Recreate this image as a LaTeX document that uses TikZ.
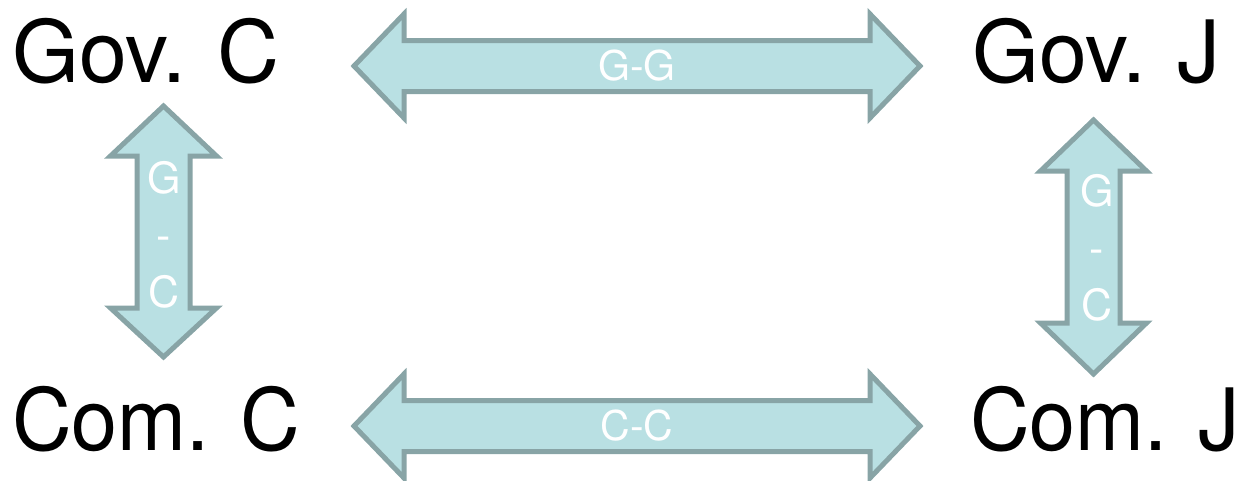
\documentclass[tikz,border=0pt]{standalone}
\usepackage{fontspec}
\setmainfont{TeX Gyre Heros}
\newfontfamily\comfont{TeX Gyre Heros}[FakeStretch=0.962]
\definecolor{arrfill}{RGB}{185,224,227}
\definecolor{arrline}{RGB}{136,164,166}
\begin{document}
\begin{tikzpicture}[x=1pt,y=-1pt,
  bigarrow/.style={draw=arrline,fill=arrfill,line width=5pt,line join=miter},
  party/.style={inner sep=0pt,anchor=base west,font=\fontsize{86}{86}\selectfont},
  comparty/.style={party,font=\comfont\fontsize{86}{86}\selectfont},
  arrlabel/.style={inner sep=0pt,text=white,font=\fontsize{41}{41}\selectfont},
  vlabel/.style={inner sep=0pt,text=white,align=center,font=\fontsize{43}{57}\selectfont}]
\useasboundingbox (0,0) rectangle (1240,480);
% parties
\node[party] (gc) at (12,82) {Gov. C};
\node[party] (gj) at (972,82) {Gov. J};
\node[comparty] (cc) at (12,450) {Com. C};
\node[comparty] (cj) at (970,450) {Com. J};
% G-G arrow
\draw[bigarrow] (354,66) -- (404,14) -- (404,40.5) -- (870,40.5) -- (870,14) -- (920,66)
  -- (870,118) -- (870,91.5) -- (404,91.5) -- (404,118) -- cycle;
\node[arrlabel,anchor=base] (gg) at (637,80) {G-G};
% C-C arrow
\draw[bigarrow] (354,426) -- (404,374) -- (404,400.5) -- (870,400.5) -- (870,374) -- (920,426)
  -- (870,478) -- (870,451.5) -- (404,451.5) -- (404,478) -- cycle;
\node[arrlabel,anchor=base] (ccl) at (637,440) {C-C};
% left G-C arrow
\draw[bigarrow] (163.5,106) -- (216.5,156) -- (190,156) -- (190,308) -- (216.5,308) -- (163.5,357)
  -- (110.5,308) -- (137,308) -- (137,156) -- (110.5,156) -- cycle;
\node[vlabel] (gcl) at (164,235) {G\\-\\C};
% right G-C arrow
\draw[bigarrow] (1093.5,120) -- (1146.5,171) -- (1120,171) -- (1120,323) -- (1146.5,323) -- (1093.5,374)
  -- (1040.5,323) -- (1067,323) -- (1067,171) -- (1040.5,171) -- cycle;
\node[vlabel] (gjl) at (1097,248) {G\\-\\C};
\end{tikzpicture}
\end{document}
